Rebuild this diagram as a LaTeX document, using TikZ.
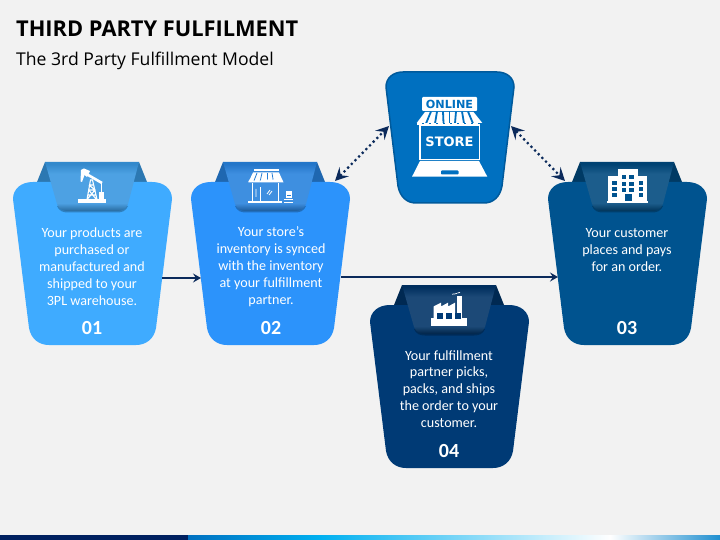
\documentclass[tikz,border=0pt]{standalone}
\usepackage{fontspec}
\setmainfont{Carlito}
\newfontfamily\headfont{Open Sans}
\newfontfamily\signfont{DejaVu Sans}
\usetikzlibrary{arrows.meta}
\definecolor{pagebg}{HTML}{F2F2F2}
\definecolor{navy}{HTML}{0B2A5B}
\definecolor{cone}{HTML}{3FABFF}
\definecolor{ctwo}{HTML}{2C93FB}
\definecolor{cthree}{HTML}{00538F}
\definecolor{cfour}{HTML}{003A75}
\definecolor{cstore}{HTML}{0070C0}
\definecolor{cstoreedge}{HTML}{005A9C}
\definecolor{bandnavy}{HTML}{002060}
\definecolor{bandcyan}{HTML}{00B0F0}
\definecolor{bandend}{HTML}{1F8FD0}
\tikzset{
  cardtext/.style={text=white,align=center,font=\fontsize{14.1}{16.9}\selectfont,inner sep=0pt},
  cardnum/.style={text=white,font=\fontsize{20}{22}\selectfont\bfseries,inner sep=0pt},
  flowline/.style={draw=navy,line width=2.6pt,-{Stealth[length=8pt,width=9pt,inset=3pt]}},
  dotline/.style={draw=navy,line width=2.2pt,dash pattern=on 2.2pt off 3pt,{Stealth[length=13pt,width=13pt,inset=5pt]}-{Stealth[length=13pt,width=13pt,inset=5pt]}},
  ink/.style={fill=white,draw=none},
  inkline/.style={draw=white,fill=none},
}
\newcommand{\declaretab}[1]{%
  \pgfdeclareverticalshading{tab#1}{100bp}{%
    color(0bp)=(#1!62!black); color(25bp)=(#1!62!black); color(33bp)=(#1!78!gray); color(63bp)=(#1!78!gray); color(73bp)=(#1!80!black); color(75bp)=(#1!80!black); color(100bp)=(#1!80!black)}}
\declaretab{cone}\declaretab{ctwo}\declaretab{cthree}\declaretab{cfour}
\newcommand{\cardshape}[2]{%
  \begin{scope}[shift={(#1)}]
    \fill[#2!70!black] (32,-20) -- (24,0) -- (42,0) -- cycle;
    \fill[#2!70!black] (126,-20) -- (134,0) -- (116,0) -- cycle;
    \fill[#2] (0,17) .. controls (0,7) and (8,0) .. (20,0) -- (139,0) .. controls (151,0) and (159,7) .. (159,17) -- (143,146) .. controls (141,157) and (133,163) .. (123,163) -- (36,163) .. controls (26,163) and (18,157) .. (16,146) -- cycle;
    \fill[#2!75!black] (44,24) .. controls (46,29) and (50,30.5) .. (55,30.5) -- (104,30.5) .. controls (109,30.5) and (113,29) .. (115,24) -- cycle;
    \shade[shading=tab#2] (32,-20) -- (126,-20) -- (115,22) .. controls (113,27) and (109,29) .. (104,29) -- (55,29) .. controls (50,29) and (46,27) .. (44,22) -- cycle;
  \end{scope}}
\begin{document}
\begin{tikzpicture}[x=1pt,y=-1pt]
\useasboundingbox (0,0) rectangle (720,540);
\fill[pagebg] (0,0) rectangle (720,540);
% bottom band
\fill[bandnavy] (0,535) rectangle (188,540);
\shade[left color=cstore,right color=bandcyan,draw=none] (188,535) rectangle (320,540);
\shade[left color=bandcyan,right color=white,draw=none] (320,535) rectangle (610,540);
\shade[left color=white,right color=bandend,draw=none] (610,535) rectangle (720,540);
% headings
\node[anchor=base west,inner sep=0pt,font=\headfont\bfseries\fontsize{21.8}{24}\selectfont] (title) at (16,37) {THIRD PARTY FULFILMENT};
\node[anchor=base west,inner sep=0pt,font=\headfont\fontsize{17.6}{20}\selectfont] (subtitle) at (16,65.5) {The 3rd Party Fulfillment Model};
% cards
\cardshape{13,182}{cone}
\cardshape{191,182}{ctwo}
\cardshape{548,182}{cthree}
\cardshape{370,305}{cfour}
% store card
\fill[cstore,draw=cstoreedge,line width=1.5pt] (386,87) .. controls (386,78) and (393,72) .. (403,72) -- (497,72) .. controls (507,72) and (514,78) .. (514,87) -- (502,186) .. controls (500,197) and (493,203) .. (484,203) -- (416,203) .. controls (407,203) and (400,197) .. (398,186) -- cycle;
% card texts
\node[cardtext] (card1) at (92,266.5) {Your products are\\purchased or\\manufactured and\\shipped to your\\3PL warehouse.};
\node[cardnum] (num1) at (92,328) {01};
\node[cardtext] (card2) at (271,266.5) {Your store’s\\inventory is synced\\with the inventory\\at your fulfillment\\partner.};
\node[cardnum] (num2) at (271,328) {02};
\node[cardtext] (card3) at (627,250) {Your customer\\places and pays\\for an order.};
\node[cardnum] (num3) at (627,328) {03};
\node[cardtext] (card4) at (449,389) {Your fulfillment\\partner picks,\\packs, and ships\\the order to your\\customer.};
\node[cardnum] (num4) at (449,451) {04};
% connector ends
\coordinate (oneout) at (162,278);
\coordinate (twoin) at (201,278);
\coordinate (twoout) at (341,277);
\coordinate (threein) at (558,277);
\coordinate (twotop) at (335,181);
\coordinate (storeleft) at (389,126);
\coordinate (storeright) at (511,126);
\coordinate (threetop) at (565,181);
\draw[flowline] (oneout) -- (twoin);
\draw[flowline] (twoout) -- (threein);
\draw[dotline] (twotop) -- (storeleft);
\draw[dotline] (storeright) -- (threetop);
% pump jack icon
\fill[ink] (78,199.5) rectangle (106,203);
\fill[ink] (99,192.5) rectangle (104,199.5);
\draw[inkline,line width=1.1pt] (87,199.5) -- (90.5,180) -- (92.5,180) -- (97,199.5) (88,195) -- (96,195) (88.7,190) -- (95,190) (89.6,185) -- (94,185) (87.5,199) -- (95,190) -- (89,185) (96,199) -- (88.7,190);
\draw[inkline,line width=2.6pt] (83,172) -- (102,183);
\draw[inkline,line width=1.2pt] (101.5,183) -- (101.5,193);
\fill[ink] (81,170) -- (84,168.5) -- (90,171) -- (87,177) -- (84.5,175) -- (82,182) -- (80.5,181.5) -- cycle;
% store icon
\fill[ink] (253.5,169) rectangle (278.5,171);
\fill[ink] (253,172.5) -- (279,172.5) -- (283.5,182.5) -- (248.3,182.5) -- cycle;
\foreach \a/\b in {257/253.5,262/260,267/267,272/273.5}{\draw[ctwo!85!black,line width=.8pt] (\a,173) -- (\b,182);}
\fill[ink] (248.3,182) arc[start angle=180,end angle=360,radius=2.9] arc[start angle=180,end angle=360,radius=2.9] arc[start angle=180,end angle=360,radius=2.9] arc[start angle=180,end angle=360,radius=2.9] arc[start angle=180,end angle=360,radius=2.9] arc[start angle=180,end angle=360,radius=2.9] -- cycle;
\fill[ink] (248.3,200.7) rectangle (281.7,202.7);
\fill[ink] (251.5,183) rectangle (253,201);
\fill[ink] (259.7,187) rectangle (261,201);
\fill[ink] (277.5,183) rectangle (279,201);
\draw[inkline,line width=.8pt] (256,189) -- (256,197) (267,194) -- (270,190) (269,195) -- (272,191);
\fill[ink] (286,191) rectangle (291.7,198.2);
\draw[ctwo!85!black,line width=.6pt] (287,195) -- (290.5,195);
\fill[ink] (284,199) rectangle (293,200);
\fill[ink] (284,202) rectangle (293,203);
% building icon
\fill[ink] (606.7,200.7) rectangle (648.3,202.8);
\fill[ink] (608.3,176) rectangle (646.7,200.9);
\fill[ink] (618.3,169.3) rectangle (638.3,176.2);
\begin{scope}[cthree]
\foreach \x in {621.7,629.3}{\foreach \y in {175,181.7,188.3}{\fill (\x,\y) rectangle ++(4.2,4);}}
\foreach \x in {612.3,638.7}{\foreach \y in {180.7,186.7,192.7}{\fill (\x,\y) rectangle ++(4.4,4);}}
\fill (625,194.3) rectangle (631.7,200.8);
\end{scope}
% factory icon
\fill[ink] (431,317.7) rectangle (467,325.7);
\fill[ink] (433.5,318) -- (433.5,306.5) -- (441,302.7) -- (441,306.5) -- (448,302.7) -- (448,306.5) -- (455,302.7) -- (455,318) -- cycle;
\fill[ink] (457.3,296) rectangle (462,318);
\begin{scope}[cfour]
\fill (437,313.3) rectangle (442.7,318.7);
\fill (446,313.3) rectangle (451.7,318.7);
\fill (455.3,313.3) rectangle (461,318.7);
\end{scope}
\draw[inkline,line width=.7pt] (452,294.2) .. controls (454,293) and (455,295) .. (457,293.5) (457.5,293) .. controls (458.5,292) and (459,293) .. (460,292.5);
% online store icon
\fill[ink,rounded corners=1pt] (422,97) rectangle (477,111);
\node[text=cstore,inner sep=0pt,font=\signfont\bfseries\fontsize{11.2}{12}\selectfont] (online) at (449.5,104.2) {ONLINE};
\fill[ink] (425,112) -- (473.5,112) -- (482.3,123) -- (416.7,123) -- cycle;
\foreach \a/\b in {431/426,437/435,443/443.5,449.5/449.5,456/455,462/464,468/473}{\draw[cstore,line width=1.8pt] (\a,111.5) -- (\b,123.5);}
\foreach \a in {417,424,431,438,445,452,459,466,473}{\fill[ink] (\a,123.5) rectangle ++(5.3,2);}
\draw[inkline,line width=1.5pt] (420,125) rectangle (479.5,159.5);
\node[text=white,inner sep=0pt,font=\signfont\bfseries\fontsize{13}{14}\selectfont] (store) at (449.5,141.5) {STORE};
\fill[ink] (420,161) -- (479,161) -- (487.3,176.7) -- (412,176.7) -- cycle;
\fill[cstore,rounded corners=.8pt] (441,170.5) rectangle (458.5,174.5);
\end{tikzpicture}
\end{document}
